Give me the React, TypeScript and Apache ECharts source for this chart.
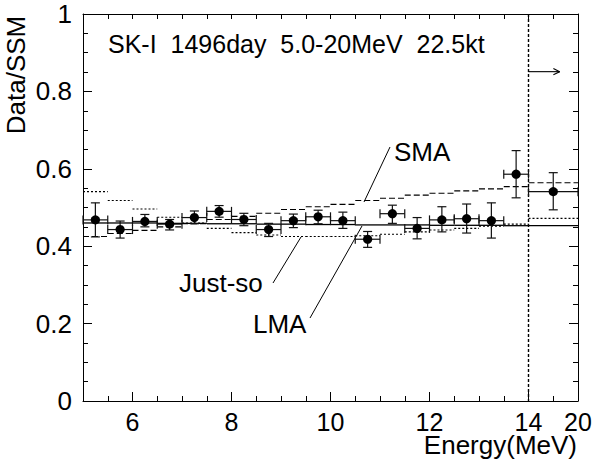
import React, { useEffect, useRef } from "react";
import * as echarts from "echarts";

// Energy bins (MeV): 0.5 MeV bins from 5 to 14, then one wide 14-20 bin
const binLow = [5.0, 5.5, 6.0, 6.5, 7.0, 7.5, 8.0, 8.5, 9.0, 9.5, 10.0, 10.5, 11.0, 11.5, 12.0, 12.5, 13.0, 13.5, 14.0];
const binHigh = [5.5, 6.0, 6.5, 7.0, 7.5, 8.0, 8.5, 9.0, 9.5, 10.0, 10.5, 11.0, 11.5, 12.0, 12.5, 13.0, 13.5, 14.0, 20.0];

// Measured Data/SSM with statistical error range
const dataRatio = [0.468, 0.443, 0.464, 0.457, 0.474, 0.490, 0.469, 0.443, 0.466, 0.476, 0.466, 0.418, 0.484, 0.446, 0.468, 0.471, 0.466, 0.586, 0.541];
const errLow = [0.424, 0.421, 0.450, 0.442, 0.458, 0.475, 0.453, 0.425, 0.448, 0.458, 0.446, 0.397, 0.459, 0.419, 0.437, 0.434, 0.421, 0.525, 0.494];
const errHigh = [0.512, 0.465, 0.482, 0.469, 0.491, 0.505, 0.485, 0.459, 0.483, 0.493, 0.488, 0.438, 0.506, 0.474, 0.502, 0.509, 0.512, 0.647, 0.590];

// Expected spectra for the oscillation solutions
const lmaRatio = [0.460, 0.460, 0.460, 0.459, 0.459, 0.458, 0.458, 0.457, 0.457, 0.456, 0.456, 0.455, 0.455, 0.455, 0.454, 0.454, 0.454, 0.453, 0.453];
const smaRatio = [0.425, 0.433, 0.441, 0.450, 0.458, 0.469, 0.477, 0.485, 0.495, 0.502, 0.508, 0.518, 0.524, 0.532, 0.537, 0.543, 0.548, 0.554, 0.564];
const justSoRatio = [0.541, 0.518, 0.496, 0.475, 0.460, 0.446, 0.435, 0.429, 0.425, 0.425, 0.425, 0.427, 0.431, 0.437, 0.442, 0.446, 0.452, 0.457, 0.472];

// Axis ticks and labels
const xMajorTicks = [6, 8, 10, 12, 14];
const xLabelValues = [6, 8, 10, 12, 14, 20];
const xLabelTexts = ["6", "8", "10", "12", "14", "20"];
const yLabelValues = [0, 0.2, 0.4, 0.6, 0.8, 1];
const yLabelTexts = ["0", "0.2", "0.4", "0.6", "0.8", "1"];

// Overflow marker: the last bin collects everything from 14 up to 20 MeV
const splitEnergy = 14;
const arrowLevel = 0.851;
const arrowEnd = 14.63;

const title = "SK-I  1496day  5.0-20MeV  22.5kt";

const FONT = "Liberation Sans, Arial, Helvetica, sans-serif";

// The 14-20 MeV range is squeezed into the width of one MeV on the axis
const toAxis = (e: number) => (e <= splitEnergy ? e : splitEnergy + (e - splitEnergy) / 6);

export default function App() {
  const ref = useRef<HTMLDivElement>(null);

  useEffect(() => {
    if (!ref.current) return;
    const chart = echarts.init(ref.current, undefined, { renderer: "svg" });

    const pointData = dataRatio.map((v, i) => [
      (toAxis(binLow[i]) + toAxis(binHigh[i])) / 2,
      v,
      errLow[i],
      errHigh[i],
      toAxis(binLow[i]),
      toAxis(binHigh[i]),
    ]);

    const stepData = (vals: number[]) =>
      vals.map((v, i) => [toAxis(binLow[i]), toAxis(binHigh[i]), v]);

    const labelFor = (v: number) => {
      const idx = xLabelValues.findIndex((e) => Math.abs(toAxis(e) - v) < 1e-6);
      return idx >= 0 ? xLabelTexts[idx] : "";
    };

    const stepSeries = (name: string, vals: number[], dash: number[] | null, width: number) => ({
      type: "custom",
      name,
      xAxisIndex: 0,
      yAxisIndex: 0,
      encode: { x: [0, 1], y: 2 },
      data: stepData(vals),
      z: 2,
      renderItem: (params: any, api: any) => {
        const a = api.coord([api.value(0), api.value(2)]);
        const b = api.coord([api.value(1), api.value(2)]);
        return {
          type: "line",
          shape: { x1: a[0], y1: a[1], x2: b[0], y2: b[1] },
          style: { stroke: "#000", lineWidth: width, lineDash: dash || undefined, fill: null },
        };
      },
    });

    const textStyle = { fontFamily: FONT, color: "#000" };

    const option: any = {
      animation: false,
      backgroundColor: "#fff",
      grid: { left: 83, right: 19, top: 14, bottom: 63, containLabel: false },
      xAxis: [
        {
          type: "value",
          position: "bottom",
          min: 5,
          max: 15,
          interval: 1,
          axisLine: { show: true, onZero: false, lineStyle: { color: "#000", width: 1 } },
          axisTick: {
            show: true,
            inside: true,
            length: 9,
            customValues: xMajorTicks.map(toAxis),
            lineStyle: { color: "#000", width: 1 },
          },
          axisLabel: {
            ...textStyle,
            fontSize: 25,
            lineHeight: 19,
            margin: 11,
            customValues: xLabelValues.map(toAxis),
            formatter: (v: number) => labelFor(v),
          },
          splitLine: { show: false },
        },
        {
          type: "value",
          position: "bottom",
          min: 5,
          max: 15,
          interval: 0.5,
          axisLine: { show: false, onZero: false },
          axisTick: { show: true, inside: true, length: 5, lineStyle: { color: "#000", width: 1 } },
          axisLabel: { show: false },
          splitLine: { show: false },
        },
        {
          type: "value",
          position: "top",
          min: 5,
          max: 15,
          interval: 0.5,
          axisLine: { show: true, onZero: false, lineStyle: { color: "#000", width: 1 } },
          axisTick: { show: true, inside: true, length: 5, lineStyle: { color: "#000", width: 1 } },
          axisLabel: { show: false },
          splitLine: { show: false },
        },
      ],
      yAxis: [
        {
          type: "value",
          position: "left",
          min: 0,
          max: 1,
          interval: 0.2,
          axisLine: { show: true, onZero: false, lineStyle: { color: "#000", width: 1 } },
          axisTick: { show: true, inside: true, length: 9, lineStyle: { color: "#000", width: 1 } },
          minorTick: { show: true, splitNumber: 4, length: 5, lineStyle: { color: "#000", width: 1 } },
          axisLabel: {
            ...textStyle,
            fontSize: 26,
            margin: 11,
            formatter: (v: number) => {
              const idx = yLabelValues.findIndex((y) => Math.abs(y - v) < 1e-6);
              return idx >= 0 ? yLabelTexts[idx] : "";
            },
          },
          splitLine: { show: false },
        },
        {
          type: "value",
          position: "right",
          min: 0,
          max: 1,
          interval: 0.2,
          axisLine: { show: true, onZero: false, lineStyle: { color: "#000", width: 1 } },
          axisTick: { show: true, inside: true, length: 9, lineStyle: { color: "#000", width: 1 } },
          minorTick: { show: true, splitNumber: 4, length: 5, lineStyle: { color: "#000", width: 1 } },
          axisLabel: { show: false },
          splitLine: { show: false },
        },
      ],
      series: [
        stepSeries("LMA", lmaRatio, null, 1.3),
        stepSeries("SMA", smaRatio, [6, 3], 1.1),
        stepSeries("Just-so", justSoRatio, [2, 2], 1.1),
        {
          type: "custom",
          name: "overflow",
          xAxisIndex: 0,
          yAxisIndex: 0,
          encode: { x: 0, y: 1 },
          data: [[splitEnergy, arrowLevel, arrowEnd]],
          z: 3,
          renderItem: (params: any, api: any) => {
            const top = api.coord([splitEnergy, 1]);
            const bottom = api.coord([splitEnergy, 0]);
            const a = api.coord([api.value(0), api.value(1)]);
            const b = api.coord([api.value(2), api.value(1)]);
            const head = 7;
            const ang = 0.45;
            const stroke = { stroke: "#000", lineWidth: 1.1, fill: null };
            return {
              type: "group",
              children: [
                {
                  type: "line",
                  shape: { x1: top[0], y1: top[1], x2: bottom[0], y2: bottom[1] },
                  style: { ...stroke, lineWidth: 1.4, lineDash: [3, 2] },
                },
                { type: "line", shape: { x1: a[0], y1: a[1], x2: b[0], y2: b[1] }, style: stroke },
                {
                  type: "line",
                  shape: { x1: b[0], y1: b[1], x2: b[0] - head * Math.cos(ang), y2: b[1] - head * Math.sin(ang) },
                  style: stroke,
                },
                {
                  type: "line",
                  shape: { x1: b[0], y1: b[1], x2: b[0] - head * Math.cos(ang), y2: b[1] + head * Math.sin(ang) },
                  style: stroke,
                },
              ],
            };
          },
        },
        {
          type: "custom",
          name: "Data",
          xAxisIndex: 0,
          yAxisIndex: 0,
          encode: { x: 0, y: 1 },
          data: pointData,
          z: 4,
          renderItem: (params: any, api: any) => {
            const x = api.value(0);
            const y = api.value(1);
            const c = api.coord([x, y]);
            const lo = api.coord([x, api.value(2)]);
            const hi = api.coord([x, api.value(3)]);
            const l = api.coord([api.value(4), y]);
            const r = api.coord([api.value(5), y]);
            const cap = 4.5;
            const st = { stroke: "#111", lineWidth: 1.2, fill: null };
            const ln = (x1: number, y1: number, x2: number, y2: number) => ({
              type: "line",
              shape: { x1, y1, x2, y2 },
              style: st,
            });
            return {
              type: "group",
              children: [
                ln(c[0], lo[1], c[0], hi[1]),
                ln(c[0] - cap, lo[1], c[0] + cap, lo[1]),
                ln(c[0] - cap, hi[1], c[0] + cap, hi[1]),
                ln(l[0], c[1], r[0], c[1]),
                ln(l[0], c[1] - cap, l[0], c[1] + cap),
                ln(r[0], c[1] - cap, r[0], c[1] + cap),
                { type: "circle", shape: { cx: c[0], cy: c[1], r: 4.6 }, style: { fill: "#000" } },
              ],
            };
          },
        },
      ],
      graphic: [
        {
          type: "text",
          x: 108,
          y: 44,
          style: { text: title, font: `25px ${FONT}`, fill: "#000", textAlign: "left", textVerticalAlign: "middle" },
        },
        {
          type: "text",
          x: 16,
          y: 75,
          rotation: Math.PI / 2,
          style: { text: "Data/SSM", font: `26px ${FONT}`, fill: "#000", textAlign: "center", textVerticalAlign: "middle" },
        },
        {
          type: "text",
          x: 577,
          y: 445,
          style: {
            text: "Energy(MeV)",
            font: `26px ${FONT}`,
            lineHeight: 20,
            fill: "#000",
            textAlign: "right",
            textVerticalAlign: "middle",
          },
        },
        {
          type: "text",
          x: 394,
          y: 152,
          style: { text: "SMA", font: `26px ${FONT}`, fill: "#000", textAlign: "left", textVerticalAlign: "middle" },
        },
        {
          type: "text",
          x: 179,
          y: 283,
          style: { text: "Just-so", font: `26px ${FONT}`, fill: "#000", textAlign: "left", textVerticalAlign: "middle" },
        },
        {
          type: "text",
          x: 253,
          y: 324,
          style: { text: "LMA", font: `26px ${FONT}`, fill: "#000", textAlign: "left", textVerticalAlign: "middle" },
        },
        { type: "line", shape: { x1: 390, y1: 147, x2: 364, y2: 202 }, style: { stroke: "#000", lineWidth: 1 } },
        { type: "line", shape: { x1: 273, y1: 283, x2: 301, y2: 237 }, style: { stroke: "#000", lineWidth: 1 } },
        { type: "line", shape: { x1: 310, y1: 318, x2: 362, y2: 226 }, style: { stroke: "#000", lineWidth: 1 } },
      ],
    };

    chart.setOption(option);
    return () => chart.dispose();
  }, []);

  return (
    <div
      ref={ref}
      style={{ position: "fixed", left: 0, top: 0, width: 597, height: 464, background: "#fff" }}
    />
  );
}
